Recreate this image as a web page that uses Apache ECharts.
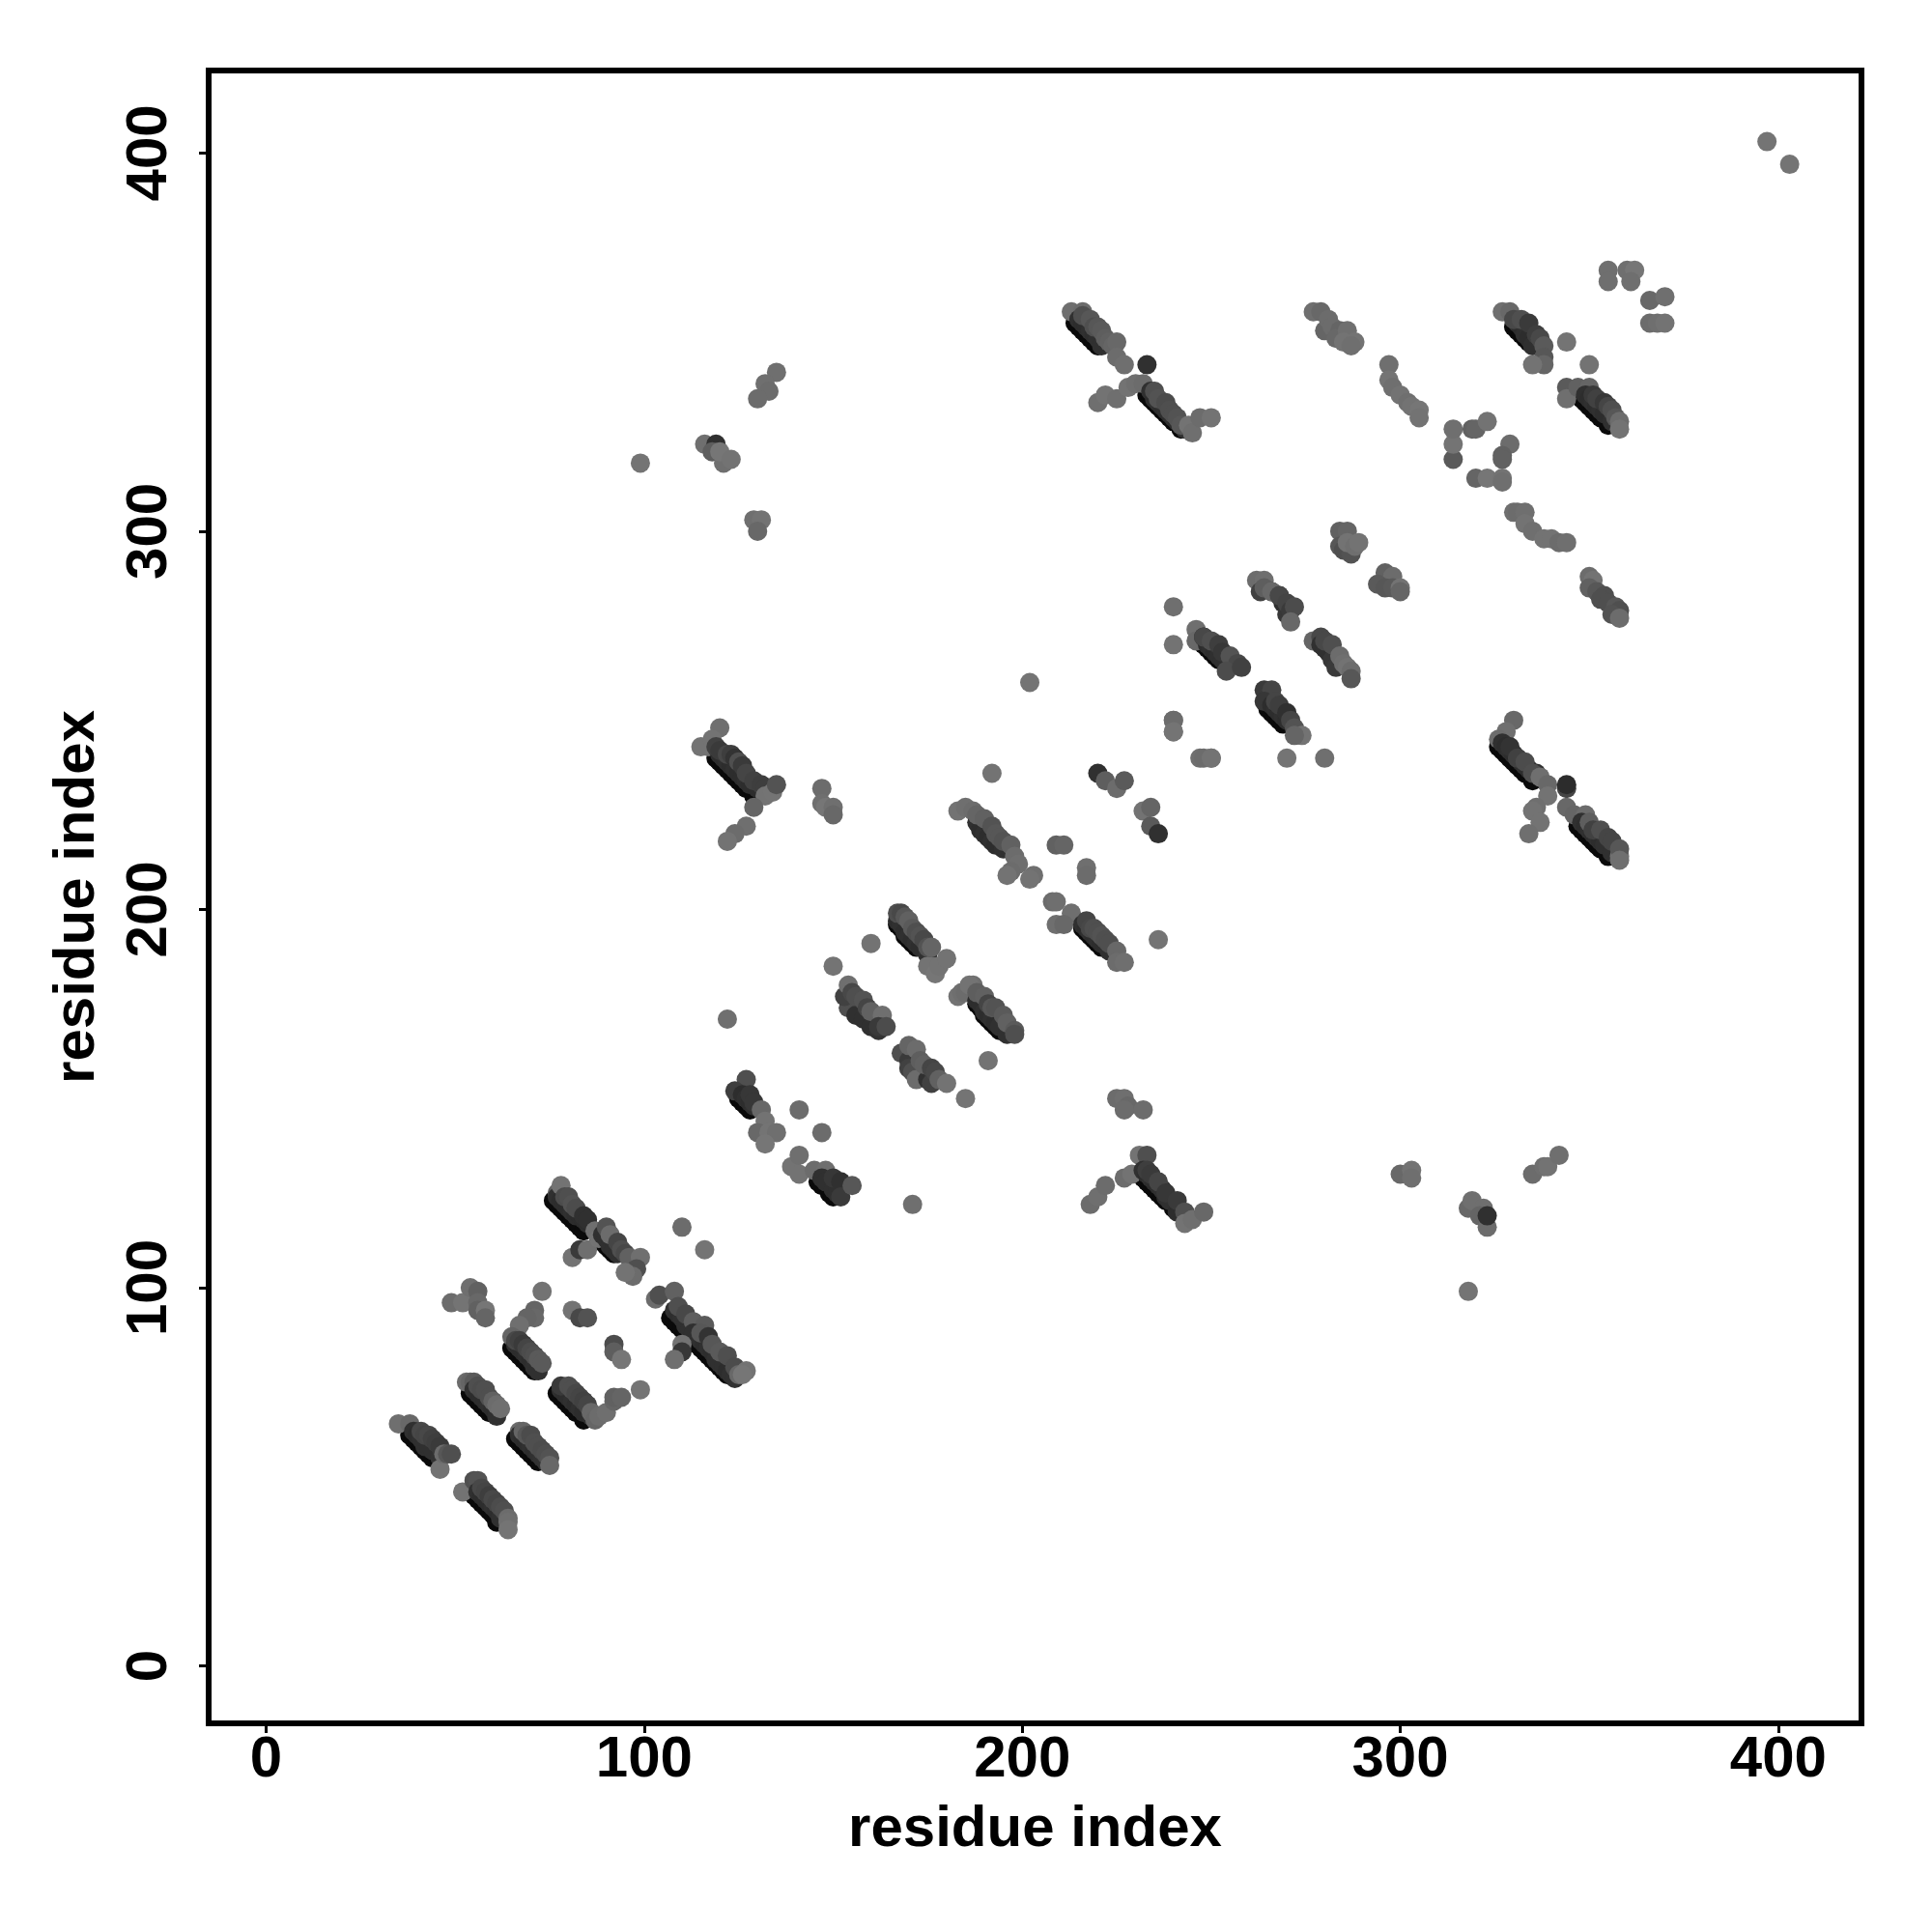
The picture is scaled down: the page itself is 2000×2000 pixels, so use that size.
<!DOCTYPE html>
<html><head><meta charset="utf-8">
<style>html,body{margin:0;padding:0;background:#fff}#c{width:2000px;height:2000px}</style>
<script src="https://cdn.jsdelivr.net/npm/echarts@6/dist/echarts.min.js"></script>
</head><body><div id="c"></div>
<script>
const xTicks=[0,100,200,300,400];
const yTicks=[0,100,200,300,400];
const xName="residue index";
const yName="residue index";
// strongest contacts, seen as the black lower edge of each band: [residue i, residue j]
const rim01=[[38,61],[39,60],[40,59],[41,58],[42,57],[43,56],[44,55]];
const rim02=[[55,45],[56,44],[57,43],[58,42],[59,41],[60,40],[61,38]];
const rim03=[[54,72],[55,71],[56,70],[57,69],[58,68],[59,67]];
const rim04=[[66,60],[67,59],[68,58],[69,57],[70,56],[71,55],[72,54]];
const rim06=[[65,84],[66,83],[67,82],[68,81],[69,80],[70,79],[71,78]];
const rim08=[[77,72],[78,71],[79,70],[80,69],[81,68],[82,67],[84,65]];
const rim09=[[76,123],[77,122],[78,121],[79,120],[80,119],[81,118],[82,117],[83,116],[84,115]];
const rim10=[[88,113],[89,112],[90,111],[91,110],[92,109]];
const rim12=[[107,92],[108,91],[109,90],[110,89],[111,88],[112,87],[114,85],[115,84],[116,83],[117,82],[118,81],[119,80],[120,79],[121,78],[122,77]];
const rim14=[[119,240],[120,239],[121,238],[122,237],[123,236],[124,235],[125,234],[126,233],[127,232],[129,230]];
const rim16=[[167,196],[168,195],[169,193],[170,192],[171,191],[172,190]];
const rim19=[[188,175],[189,174],[190,172],[191,171],[192,170],[193,169],[194,168]];
const rim21=[[125,150],[126,149],[127,148],[128,147]];
const rim22=[[146,128],[147,127],[149,125],[150,124]];
const rim24=[[231,130],[232,129],[233,128],[234,127],[235,126],[236,125],[237,124],[238,123],[240,121]];
const rim27=[[216,195],[217,194],[218,193],[219,192],[220,191],[221,190]];
const rim28=[[214,355],[215,354],[216,353],[217,352],[218,351],[219,350],[220,349]];
const rim29=[[233,336],[234,335],[235,334],[236,333],[237,332],[238,331],[239,330],[240,329],[242,327]];
const rim34=[[330,354],[331,353],[332,352],[333,351],[334,350]];
const rim35=[[348,335],[349,334],[350,333],[351,332],[352,331],[353,330],[355,328]];
const rim42=[[247,271],[248,270],[249,269],[250,268],[251,267],[252,266]];
const rim43=[[265,253],[266,252],[267,251],[268,250],[269,249]];
const rim45=[[326,243],[327,242],[328,241],[329,240],[330,239],[331,238],[332,237],[333,236],[335,234]];
const rim46=[[347,222],[348,221],[349,220],[350,219],[351,218],[352,217],[353,216],[355,214]];
const rims=[rim01,rim02,rim03,rim04,rim06,rim08,rim09,rim10,rim12,rim14,rim16,rim19,rim21,rim22,rim24,rim27,rim28,rim29,rim34,rim35,rim42,rim43,rim45,rim46];
// [residue i, residue j, grey level]
const band01=[[35,64,105],[38,64,95],[40,62,75],[39,62,15],[40,61,12],[41,60,15],[42,58,15],[43,58,15],[44,57,15],[46,55,18],[41,62,50],[42,61,45],[43,61,50],[44,60,40],[45,59,35],[46,58,30],[46,52,110],[47,56,100],[48,56,70],[49,56,60]];
const band02=[[52,46,110],[55,49,60],[56,49,65],[56,46,15],[57,45,12],[58,44,12],[59,43,12],[60,42,15],[61,41,12],[62,39,15],[57,47,50],[58,46,45],[59,45,35],[60,44,50],[61,43,45],[62,42,55],[63,41,60],[64,39,100],[64,38,105],[64,36,112]];
const band03=[[53,75,100],[54,75,90],[55,75,75],[55,73,15],[56,72,12],[57,71,12],[58,70,12],[59,69,15],[60,68,12],[61,66,15],[56,74,60],[57,73,55],[58,73,60],[59,71,60],[60,70,85],[61,69,100],[62,68,105]];
const band04=[[67,62,100],[67,61,15],[68,60,12],[69,59,12],[70,58,15],[71,57,12],[72,56,15],[73,55,18],[74,54,20],[68,62,90],[69,61,70],[70,61,55],[71,59,60],[72,58,60],[73,57,55],[74,56,60],[75,55,65],[75,53,95]];
const band05=[[49,96,100],[52,96,112],[54,100,105],[56,99,85],[56,96,95],[56,94,85],[58,94,115],[58,92,90]];
const band06=[[73,99,110],[71,94,90],[71,92,95],[69,92,90],[67,90,105],[65,87,90],[66,85,15],[67,84,12],[68,83,12],[69,82,15],[70,81,12],[71,79,15],[72,78,15],[66,86,50],[67,86,40],[68,85,30],[69,84,45],[70,83,55],[71,82,60],[72,81,75],[73,80,75]];
const band07=[[81,94,110],[83,92,50],[85,92,65],[92,85,55],[92,83,80],[94,81,115],[99,73,112]];
const band08=[[78,73,15],[79,72,12],[80,71,12],[81,70,15],[82,69,12],[83,68,15],[84,67,12],[86,66,15],[78,74,30],[80,74,60],[81,73,60],[82,72,50],[83,71,45],[84,70,40],[85,69,45],[86,67,95],[87,65,90],[88,66,100],[90,67,105],[92,70,90],[92,71,85],[94,71,90]];
const band09=[[77,125,90],[77,124,15],[78,123,12],[79,122,12],[80,121,12],[81,120,15],[82,119,12],[83,119,10],[84,118,10],[85,117,12],[78,127,110],[79,124,55],[80,124,60],[81,122,65],[82,121,55],[84,119,15],[85,118,15],[81,108,110],[83,110,30],[85,110,105],[87,115,105],[88,113,110]];
const band10=[[89,114,15],[90,113,15],[91,111,15],[92,110,15],[93,109,15],[90,116,65],[91,114,100],[93,112,45],[94,110,60],[95,109,50],[96,108,85],[99,108,105],[98,105,60],[97,103,100],[95,104,110]];
const band11=[[110,116,100],[116,110,112]];
const band12=[[103,97,100],[104,98,60],[108,99,85],[108,94,15],[109,93,12],[110,92,15],[111,90,15],[112,89,15],[109,95,60],[111,93,50],[113,91,80],[116,90,75],[113,88,15],[115,86,15],[116,85,12],[117,84,15],[118,83,12],[119,81,15],[120,80,15],[121,79,15],[122,78,12],[123,77,15],[124,76,15]];
const band13=[[110,85,110],[110,83,25],[108,81,105],[115,88,70],[117,87,20],[118,85,70],[120,83,75],[122,82,60],[124,79,55],[125,77,95],[127,78,110],[126,77,115]];
const band14=[[117,243,105],[115,243,110],[120,248,105],[118,245,110],[120,241,12],[121,240,12],[122,239,15],[123,238,12],[124,237,15],[125,236,12],[126,235,12],[127,234,15],[128,233,12],[130,232,12],[119,243,40],[120,242,30],[122,241,50],[123,241,35],[124,240,20],[125,239,60],[126,238,30],[127,236,45],[129,234,40],[131,233,35],[132,232,35],[132,230,110],[134,231,112],[135,233,65]];
const band15=[[129,227,90],[127,222,105],[124,220,100],[122,218,110],[147,232,100],[147,228,105],[148,227,115],[150,227,105],[150,225,95]];
const band16=[[167,197,12],[168,196,15],[169,194,12],[170,193,15],[171,192,12],[172,191,15],[173,190,12],[175,188,15],[167,199,60],[168,199,50],[169,198,70],[170,197,85],[171,195,75],[172,194,60],[173,193,65],[174,192,50],[175,190,65],[176,190,90],[176,185,105],[175,185,110],[177,183,115],[178,185,110],[180,187,110]];
const band17=[[160,191,110],[150,185,112],[122,171,105]];
const band18=[[154,174,60],[156,172,15],[153,177,40],[158,171,15],[160,169,15],[162,168,20],[154,180,105],[155,178,50],[156,177,60],[158,176,65],[159,174,45],[160,173,85],[163,172,105],[162,169,30],[164,169,55]];
const band19=[[183,177,110],[184,178,105],[185,178,100],[187,180,105],[186,180,110],[188,176,12],[189,175,12],[190,173,15],[191,172,12],[192,171,15],[193,170,12],[194,169,15],[196,167,15],[188,178,80],[190,177,85],[191,175,45],[192,174,70],[193,174,65],[195,172,75],[196,170,85],[198,168,75],[198,167,60]];
const band20=[[168,162,60],[170,160,30],[170,158,40],[171,157,60],[172,155,100],[175,155,15],[176,154,40],[170,164,90],[172,163,100],[173,160,80],[174,159,85],[176,158,45],[177,157,50],[178,155,85],[180,154,110],[191,160,110],[185,150,112]];
const band21=[[127,155,60],[124,152,35],[126,151,12],[127,150,15],[128,149,12],[129,148,15],[128,151,25],[129,149,25],[131,147,95],[132,144,110],[130,141,95],[133,141,112],[135,141,105],[132,138,115],[141,147,100],[147,141,100]];
const band22=[[139,132,110],[141,135,105],[141,130,110],[145,131,100],[148,131,105],[147,129,15],[148,128,15],[150,126,15],[151,125,15],[150,129,25],[152,128,15],[152,124,30],[155,127,70]];
const band23=[[171,122,105],[225,150,100],[227,150,105],[228,148,95],[227,147,100],[232,147,100],[218,122,100],[220,124,105],[222,127,100],[227,129,100],[229,130,110]];
const band24=[[231,135,110],[233,135,60],[232,131,15],[233,130,12],[234,129,15],[235,128,12],[236,127,12],[237,126,15],[238,124,12],[239,123,15],[241,120,12],[233,131,35],[234,130,30],[236,128,45],[238,125,25],[241,123,30],[243,120,60],[243,117,110],[245,118,105],[248,120,95]];
const band25=[[183,226,110],[185,227,105],[187,226,100],[188,223,15],[189,221,12],[190,220,15],[191,219,12],[192,218,15],[193,217,12],[195,216,15],[188,225,90],[190,224,85],[192,222,65],[193,220,70],[194,219,70],[195,218,65],[197,217,85],[198,214,100],[199,212,105],[197,210,100],[196,209,110],[203,209,105],[202,208,110],[192,236,110]];
const band26=[[220,236,15],[222,234,80],[225,232,100],[227,234,75],[232,226,110],[234,227,90],[234,222,75],[236,220,15],[209,217,85],[211,217,90],[217,211,105],[217,209,100],[240,250,100],[240,247,110],[247,240,105],[250,240,110]];
const band27=[[208,202,100],[209,202,105],[213,199,105],[209,196,105],[211,196,95],[216,196,15],[217,195,12],[218,194,15],[219,193,12],[220,192,15],[221,191,12],[223,189,15],[217,197,45],[218,195,50],[219,195,60],[220,194,60],[221,193,65],[222,192,60],[223,191,60],[225,189,95],[225,186,100],[227,186,105],[236,192,112]];
const band28=[[213,358,105],[216,358,100],[215,356,15],[216,355,12],[217,354,12],[218,353,15],[219,352,12],[220,351,15],[221,349,15],[216,357,60],[218,356,70],[219,354,60],[220,354,70],[221,353,75],[222,351,80],[223,350,85],[224,349,90],[225,350,95],[225,346,100],[227,344,105],[233,344,15]];
const band29=[[220,334,105],[222,336,110],[225,335,105],[228,338,110],[230,339,105],[232,339,100],[234,337,15],[235,335,12],[236,334,15],[237,333,12],[238,332,15],[239,331,12],[240,330,15],[241,329,12],[243,327,15],[235,337,60],[236,335,65],[238,334,55],[239,332,60],[240,331,60],[241,330,65],[242,328,70],[244,328,110],[245,326,105],[247,330,100],[250,330,110]];
const band30=[[277,358,105],[279,358,95],[280,353,90],[281,356,100],[282,354,100],[284,353,90],[283,351,95],[286,353,105],[285,350,110],[288,350,110],[287,349,105]];
const band31=[[297,344,105],[297,340,112],[298,338,105],[300,336,110],[302,334,105],[303,333,110],[305,332,115],[305,330,110]];
const band32=[[314,319,75],[314,323,112],[314,327,105],[319,327,85],[320,327,90],[323,329,110],[329,323,100],[327,320,85],[327,319,85],[320,314,90],[323,314,115],[327,314,110],[327,313,105]];
const band33=[[330,305,105],[331,305,100],[333,305,105],[333,302,110],[335,300,105],[338,298,110],[340,298,110],[342,297,100],[344,297,105]];
const band34=[[327,358,105],[329,358,95],[331,355,15],[332,354,12],[333,352,15],[334,351,12],[335,349,15],[330,356,50],[332,356,60],[334,355,30],[336,352,35],[337,351,50],[338,349,75],[338,346,70],[338,344,90],[335,344,110],[344,350,112],[350,344,110]];
const band35=[[344,338,75],[344,335,105],[347,338,85],[350,338,90],[349,336,15],[350,335,12],[351,334,15],[352,333,12],[353,332,15],[354,331,12],[356,329,15],[351,336,30],[352,335,40],[354,334,25],[355,333,45],[356,332,60],[357,330,70],[358,329,100],[358,327,110]];
const band36=[[355,369,105],[355,366,105],[360,369,105],[362,369,115],[361,366,105],[366,361,95],[370,362,105],[366,355,100],[368,355,105],[370,355,110]];
const band37=[[262,287,100],[264,287,105],[263,284,40],[266,284,15],[268,283,15],[269,281,15],[270,278,25],[264,285,80],[266,284,95],[268,283,50],[270,281,45],[271,279,30],[272,280,55],[271,276,95]];
const band38=[[277,271,90],[279,272,50],[279,270,15],[280,269,15],[281,268,15],[282,266,25],[283,264,30],[280,271,50],[282,270,60],[284,267,100],[285,265,105],[286,264,110],[287,263,100],[287,261,70]];
const band39=[[284,300,85],[286,300,90],[284,296,70],[285,295,60],[287,294,65],[286,297,110],[288,296,105],[289,297,110]];
const band40=[[296,289,85],[298,288,100],[294,286,75],[296,285,70],[298,285,75],[300,285,110],[300,284,90]];
const band41=[[350,288,100],[351,287,110],[350,285,85],[352,284,70],[354,283,60],[353,282,60],[355,281,60],[357,280,70],[358,279,60],[356,278,65],[358,277,100]];
const band42=[[246,274,105],[246,271,95],[248,272,15],[249,270,12],[250,269,15],[251,268,12],[252,267,15],[253,266,15],[248,272,50],[250,271,60],[252,270,35],[253,268,25],[255,267,65],[257,265,50],[254,263,55],[258,264,40],[240,280,105],[240,270,110],[202,260,112]];
const band43=[[264,258,30],[266,258,45],[264,255,25],[266,254,12],[267,253,15],[268,252,12],[269,251,15],[270,250,12],[267,255,45],[268,254,35],[270,252,15],[271,250,45],[272,248,65],[274,246,110],[272,246,90]];
const band44=[[240,250,100],[240,247,112],[248,240,100],[250,240,110],[270,240,112],[280,240,105]];
const band45=[[330,250,95],[328,247,105],[326,245,100],[327,244,15],[328,243,12],[329,242,15],[330,241,12],[331,240,15],[332,239,12],[333,238,15],[334,237,12],[336,236,15],[329,243,20],[331,240,40],[333,239,55],[335,236,60],[337,235,105],[339,233,95],[339,230,110],[344,232,45],[344,233,10],[336,227,105],[335,226,110],[337,223,110],[334,220,105]];
const band46=[[344,227,95],[346,225,90],[349,225,100],[348,223,15],[349,222,12],[350,221,15],[351,220,12],[352,219,15],[353,218,12],[354,217,15],[356,215,15],[350,223,80],[351,221,40],[353,221,60],[355,219,45],[356,218,45],[358,214,110],[358,216,70],[358,213,105]];
const band47=[[99,318,112],[116,323,105],[119,323,15],[118,321,80],[121,318,105],[120,321,115],[123,319,110],[135,342,105],[132,339,105],[133,337,100],[130,335,100],[129,303,105],[131,303,110],[130,300,95]];
const band48=[[300,130,95],[303,131,110],[303,129,105],[318,121,95],[319,123,105],[322,121,105],[321,119,90],[323,116,100],[323,119,15],[318,99,112],[335,130,100],[338,132,105],[339,132,110],[342,135,105],[397,403,112],[403,397,112]];
const bands=[band01,band02,band03,band04,band05,band06,band07,band08,band09,band10,band11,band12,band13,band14,band15,band16,band17,band18,band19,band20,band21,band22,band23,band24,band25,band26,band27,band28,band29,band30,band31,band32,band33,band34,band35,band36,band37,band38,band39,band40,band41,band42,band43,band44,band45,band46,band47,band48];
const font="'Liberation Sans',Arial,Helvetica,sans-serif";
const axisCommon=(ticks,name)=>({
  type:'value',name:name,nameLocation:'middle',
  nameTextStyle:{fontFamily:font,fontWeight:'bold',fontSize:60,color:'#000'},
  splitLine:{show:false},
  axisLine:{show:true,onZero:false,lineStyle:{color:'#000',width:6}},
  axisTick:{show:true,length:10,lineStyle:{color:'#000',width:3},customValues:ticks},
  axisLabel:{show:true,fontFamily:font,fontWeight:'bold',fontSize:60,color:'#000',customValues:ticks,hideOverlap:false,showMinLabel:true,showMaxLabel:true}
});
const chart=echarts.init(document.getElementById('c'),null,{renderer:'canvas'});
const xAxis=axisCommon(xTicks,xName);xAxis.min=-15.2;xAxis.max=422;xAxis.nameGap=80;xAxis.axisLabel.margin=8;
const yAxis=axisCommon(yTicks,yName);yAxis.min=-15.2;yAxis.max=421.8;yAxis.nameGap=106;yAxis.axisLabel.margin=31;yAxis.axisLabel.rotate=90;
chart.setOption({
  animation:false,backgroundColor:'#fff',
  grid:{show:true,left:216,right:73,top:73,bottom:216,borderColor:'#000',borderWidth:6,backgroundColor:'transparent',containLabel:false},
  xAxis:xAxis,yAxis:yAxis,
  visualMap:{show:false,dimension:2,min:10,max:120,inRange:{color:['#2c2c2c','#7a7a7a']},seriesIndex:1},
  series:[
    {type:'scatter',symbol:'circle',symbolSize:20,data:rims.flat(),clip:false,z:1,progressive:0,itemStyle:{color:'#0a0a0a',opacity:1}},
    {type:'scatter',symbol:'circle',symbolSize:20,data:bands.flat(),clip:false,z:2,progressive:0,itemStyle:{opacity:1}}
  ]
});
</script></body></html>
